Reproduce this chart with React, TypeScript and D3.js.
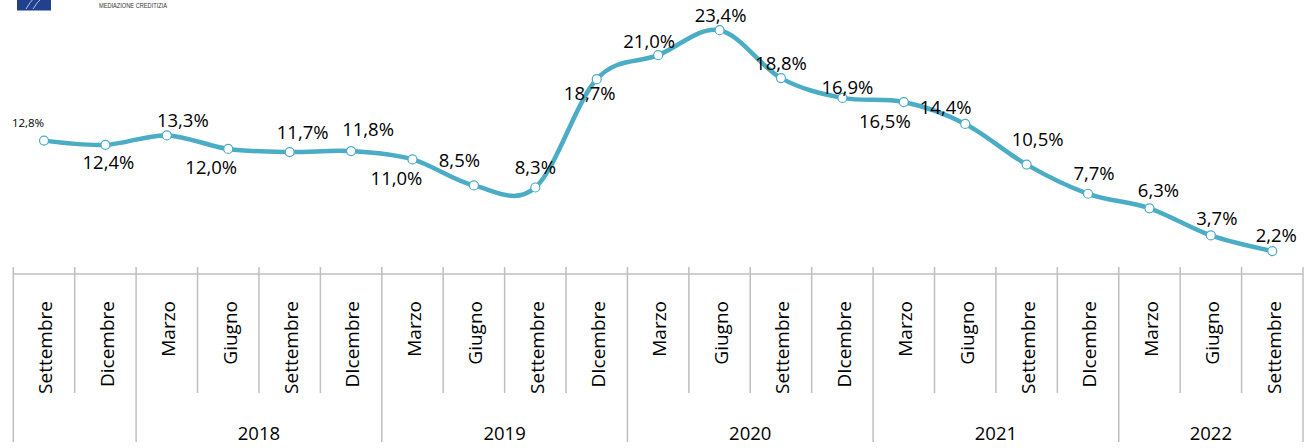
import React from "react";
import * as d3 from "d3";

const months = [
  "Settembre", "Dicembre",
  "Marzo", "Giugno", "Settembre", "DIcembre",
  "Marzo", "Giugno", "Settembre", "DIcembre",
  "Marzo", "Giugno", "Settembre", "DIcembre",
  "Marzo", "Giugno", "Settembre", "DIcembre",
  "Marzo", "Giugno", "Settembre",
];
const values = [12.8, 12.4, 13.3, 12.0, 11.7, 11.8, 11.0, 8.5, 8.3, 18.7, 21.0, 23.4, 18.8, 16.9, 16.5, 14.4, 10.5, 7.7, 6.3, 3.7, 2.2];
const yearLabels = ["", "2018", "2019", "2020", "2021", "2022"];
const yearStarts = [0, 2, 6, 10, 14, 18];
const yearEnds = [2, 6, 10, 14, 18, 21];

// label offsets relative to point (layout only)
const labelOffsets: [number, number][] = [
  [-16, -18], [3, 18], [16, -15], [-17, 18.5], [13, -20], [17, -22], [-16, 19],
  [-14.5, -25], [0, -20], [-7, 14], [-9, -13.5], [1, -15], [0, -15], [5, -11],
  [-19, 19.6], [-19.5, -17], [11, -25.6], [6, -20.5], [9, -18.4], [6, -17], [4, -16],
];

const fmt = (v: number) => v.toFixed(1).replace(".", ",") + "%";

export default function App() {
  const W = 1309, H = 448;
  const x0 = 13.3, x1 = 1303;
  const axisY = 274;
  const idx = values.map((_, i) => i);
  const x = d3.scaleBand<number>().domain(idx).range([x0, x1]).padding(0);
  const y = d3.scaleLinear().domain([0, 23.4]).range([axisY, axisY - 23.4 * 10.42]);
  const cx = (i: number) => (x(i) as number) + x.bandwidth() / 2;
  const line = d3.line<number>().x((_, i) => cx(i)).y((d) => y(d)).curve(d3.curveCardinal.tension(0));
  const boundaries = d3.range(0, values.length + 1).map((i) => x0 + i * x.bandwidth());
  const yearBounds = new Set([...yearStarts, values.length]);
  const font = "'Open Sans', sans-serif";
  const color = "#4BACC6";

  return (
    <svg width={W} height={H} style={{ position: "absolute", left: 0, top: 0, background: "#fff" }}>
      {/* logo */}
      <rect x={17} y={-4} width={34} height={14.5} fill="#21408e" />
      <path d="M26,9 Q30,2 34,-2 M33,9 Q37,2 42,-2" stroke="#b8c6e6" strokeWidth={1} fill="none" />
      <text x={99} y={8} fontSize={6.5} fontFamily="'Liberation Sans Narrow', Arial, sans-serif" fill="#333" textLength={68} lengthAdjust="spacingAndGlyphs">MEDIAZIONE CREDITIZIA</text>

      {/* axis */}
      <line x1={x0} x2={x1} y1={axisY} y2={axisY} stroke="#bfbfbf" strokeWidth={1.5} />
      {boundaries.map((bx, i) => (
        <line key={i} x1={bx} x2={bx} y1={267} y2={yearBounds.has(i) ? 442 : 393} stroke="#bfbfbf" strokeWidth={1.5} />
      ))}
      {months.map((m, i) => (
        <text key={i} transform={`translate(${cx(i) + 1.5},301) rotate(-90)`} textAnchor="end" dy="0.36em" fontSize={19} fontFamily={font} fill="#000">{m}</text>
      ))}
      {yearLabels.map((yl, k) => (
        <text key={k} x={(boundaries[yearStarts[k]] + boundaries[yearEnds[k]]) / 2} y={433} dy="0.36em" textAnchor="middle" fontSize={18.5} fontFamily={font} fill="#000">{yl}</text>
      ))}

      {/* line */}
      <path d={line(values) || ""} fill="none" stroke={color} strokeWidth={4.5} strokeLinejoin="round" />
      {values.map((v, i) => (
        <circle key={i} cx={cx(i)} cy={y(v)} r={4.5} fill="#fff" stroke={color} strokeWidth={1.2} />
      ))}
      {values.map((v, i) => (
        <text key={i} x={cx(i) + labelOffsets[i][0]} y={y(v) + labelOffsets[i][1]} dy="0.36em" textAnchor="middle" fontSize={i === 0 ? 11.5 : 18.5} fontFamily={font} fill="#000">{fmt(v)}</text>
      ))}
    </svg>
  );
}
